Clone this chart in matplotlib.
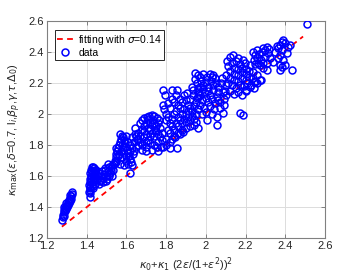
import matplotlib
matplotlib.use("Agg")
import matplotlib.pyplot as plt
import numpy as np

# ---- data ----
fit_x = [1.275, 2.49]
fit_y = [1.273, 2.50]

c1_x = [1.276,1.278,1.280,1.283,1.285,1.287,1.290,1.292,1.295,1.297,1.300,1.302,1.305,1.307,1.310,1.312,1.315,1.317,1.320,1.322,1.325,1.327,1.318,1.298,1.288]
c1_y = [1.318,1.335,1.350,1.342,1.365,1.380,1.372,1.392,1.405,1.385,1.415,1.398,1.430,1.412,1.445,1.425,1.458,1.438,1.470,1.452,1.485,1.495,1.478,1.428,1.400]

c2_x = [1.412,1.415,1.413,1.418,1.416,1.420,1.418,1.422,1.425,1.430,1.435,1.428,1.425,1.423,1.421,1.419,1.417,1.430,1.432,1.435,1.438,1.440,1.433,1.437,1.440,1.442,1.445,1.430,1.414,1.417,
        1.450,1.455,1.460,1.465,1.470,1.475,1.480,1.485,1.490,1.495,1.500,1.505,1.510,1.515,1.520,1.525,1.530,1.480,1.460,1.490,1.445,1.470,1.500,1.510,1.520,1.535,1.525,1.505]
c2_y = [1.500,1.520,1.540,1.560,1.580,1.600,1.620,1.640,1.655,1.660,1.650,1.630,1.610,1.590,1.570,1.530,1.510,1.550,1.580,1.600,1.620,1.640,1.520,1.570,1.590,1.550,1.610,1.535,1.490,1.465,
        1.580,1.600,1.620,1.570,1.600,1.630,1.590,1.610,1.640,1.570,1.600,1.630,1.660,1.620,1.650,1.670,1.640,1.560,1.550,1.650,1.640,1.575,1.580,1.600,1.630,1.680,1.600,1.675]

c3_x = [1.535,1.540,1.545,1.550,1.555,1.560,1.565,1.570,1.575,1.580,1.585,1.590,1.595,1.600,1.605,1.610,1.615,1.620,1.625,1.590,1.600,1.570,1.580,1.575,1.560,1.550,1.565,1.585,1.590,1.600,
        1.610,1.620,1.630,1.640,1.650,1.630,1.645,1.655,1.660,1.618,1.626,1.635,1.610,1.570,1.550,1.545,1.580,1.600,1.620,1.640]
c3_y = [1.680,1.700,1.720,1.740,1.760,1.780,1.800,1.820,1.840,1.860,1.850,1.830,1.810,1.790,1.770,1.750,1.730,1.710,1.690,1.670,1.700,1.680,1.720,1.760,1.730,1.700,1.745,1.790,1.750,1.860,
        1.820,1.800,1.780,1.820,1.790,1.850,1.870,1.840,1.800,1.617,1.671,1.740,1.680,1.870,1.780,1.690,1.800,1.730,1.760,1.760]

c4_x = [1.643,1.668,1.680,1.690,1.702,1.715,1.727,1.740,1.752,1.765,1.660,1.670,1.680,1.690,1.700,1.710,1.720,1.730,1.740,1.750,1.760,1.770,1.660,1.670,1.680,1.690,1.700,1.710,1.720,1.730,
        1.740,1.750,1.760,1.770,1.780,1.680,1.700,1.720,1.740,1.760,1.780,1.700,1.730,1.755,1.650,1.690,1.710,1.735,1.745,1.775,1.785,1.720,1.700,1.760]
c4_y = [1.908,1.940,1.960,1.975,1.983,1.990,1.994,1.985,1.972,1.960,1.880,1.860,1.900,1.920,1.940,1.910,1.950,1.930,1.940,1.920,1.940,1.910,1.840,1.820,1.800,1.850,1.870,1.830,1.860,1.880,
        1.860,1.890,1.870,1.850,1.880,1.770,1.790,1.810,1.800,1.820,1.830,1.760,1.770,1.785,1.860,1.890,1.970,1.960,1.900,1.790,1.789,1.900,1.820,1.760]

c5_x = [1.786,1.794,1.828,1.853,1.786,1.790,1.800,1.810,1.820,1.830,1.840,1.850,1.860,1.870,1.880,1.890,1.900,1.903,1.910,1.920,1.800,1.810,1.820,1.830,1.840,1.850,1.860,1.870,1.880,1.890,
        1.900,1.910,1.920,1.930,1.940,1.810,1.820,1.830,1.840,1.850,1.860,1.870,1.880,1.890,1.900,1.910,1.920,1.930,1.940,1.950,1.800,1.820,1.840,1.845,1.860,1.880,1.886,1.900,1.920,1.940,
        1.962,1.820,1.800,1.830,1.870,1.950,1.960,1.950,1.937,1.962,1.929,1.970,1.853]
c5_y = [2.155,2.123,2.155,2.155,2.058,2.030,2.000,2.070,2.040,2.100,2.080,2.120,2.060,2.100,2.080,2.120,2.090,2.133,2.060,2.100,1.960,1.980,1.940,1.970,2.000,2.020,1.980,2.040,2.000,2.030,
        2.000,2.020,2.040,2.020,2.050,1.900,1.880,1.920,1.900,1.940,1.920,1.960,1.940,1.970,1.950,1.980,1.960,1.990,1.970,2.000,1.840,1.820,1.860,1.854,1.880,1.900,1.886,1.910,1.920,1.930,
        1.908,1.779,1.800,1.840,1.870,1.950,2.030,2.080,2.120,2.110,2.176,2.176,1.780]

c6_x = [1.945,1.962,1.970,1.985,2.004,2.020,2.029,2.037,2.046,1.954,1.987,2.012,2.037,2.063,1.937,1.962,1.996,2.021,2.054,1.954,1.979,2.012,2.046,2.071,1.975,2.000,2.025,2.050,2.075,1.945,
        1.960,1.985,2.010,2.035,2.060,2.085,1.970,2.000,2.030,2.060,2.090,1.970,1.990,2.020,2.040,2.070,2.090,2.000,2.030,2.004,2.054,2.054,2.088,1.980,1.960,2.080,2.100,2.095]
c6_y = [2.263,2.252,2.240,2.260,2.241,2.255,2.241,2.252,2.230,2.198,2.187,2.176,2.187,2.176,2.155,2.144,2.133,2.123,2.112,2.101,2.090,2.079,2.069,2.079,2.215,2.205,2.210,2.200,2.200,2.225,
        2.170,2.160,2.150,2.155,2.145,2.140,2.120,2.105,2.095,2.090,2.100,2.060,2.040,2.050,2.030,2.040,2.060,2.010,2.000,1.961,1.983,1.929,2.005,2.000,2.030,2.230,2.190,2.150]

c7_x = [2.105,2.121,2.138,2.163,2.188,2.197,2.222,2.110,2.130,2.150,2.170,2.140,2.160,2.180,2.200,2.120,2.140,2.160,2.180,2.200,2.220,2.240,2.100,2.120,2.140,2.160,2.180,2.200,2.220,2.240,
        2.260,2.110,2.130,2.150,2.170,2.190,2.210,2.230,2.250,2.120,2.140,2.160,2.180,2.100,2.172,2.188,2.260,2.245,2.280,2.200,2.205,2.222,2.247]
c7_y = [2.340,2.370,2.381,2.359,2.348,2.327,2.316,2.310,2.330,2.340,2.320,2.300,2.290,2.300,2.290,2.280,2.260,2.250,2.270,2.260,2.280,2.270,2.250,2.230,2.220,2.210,2.230,2.220,2.240,2.230,
        2.250,2.200,2.190,2.170,2.190,2.180,2.200,2.190,2.210,2.150,2.130,2.140,2.120,2.120,2.005,1.994,2.200,2.170,2.220,2.150,2.155,2.176,2.208]

c8_x = [2.382,2.390,2.373,2.415,2.424,2.365,2.382,2.407,2.373,2.365,2.390,2.373,2.382,2.398,2.432,2.306,2.289,2.281,2.314,2.298,2.323,2.306,2.339,2.289,2.306,2.273,2.256,2.240,2.250,2.270,
        2.260,2.245,2.280,2.265,2.250,2.290,2.300,2.320,2.273,2.373,2.350,2.360,2.400,2.508]
c8_y = [2.467,2.478,2.445,2.434,2.445,2.424,2.413,2.392,2.381,2.359,2.348,2.316,2.305,2.316,2.284,2.434,2.424,2.402,2.392,2.370,2.359,2.327,2.337,2.295,2.284,2.219,2.413,2.400,2.380,2.390,
        2.360,2.350,2.350,2.330,2.320,2.330,2.410,2.420,2.316,2.284,2.400,2.440,2.460,2.579]

data_x = c1_x + c2_x + c3_x + c4_x + c5_x + c6_x + c7_x + c8_x
data_y = c1_y + c2_y + c3_y + c4_y + c5_y + c6_y + c7_y + c8_y

x_ticks = [1.2, 1.4, 1.6, 1.8, 2.0, 2.2, 2.4, 2.6]
x_tick_labels = ["1.2", "1.4", "1.6", "1.8", "2", "2.2", "2.4", "2.6"]
y_ticks = [1.2, 1.4, 1.6, 1.8, 2.0, 2.2, 2.4, 2.6]
y_tick_labels = ["1.2", "1.4", "1.6", "1.8", "2", "2.2", "2.4", "2.6"]

# ---- figure ----
plt.rcParams['font.family'] = ['Liberation Sans', 'DejaVu Sans']
plt.rcParams['mathtext.fontset'] = 'dejavusans'

fig = plt.figure(figsize=(3.59, 2.75), dpi=100)
ax = fig.add_axes([0.131, 0.1345, 0.774, 0.7891])

axis_col = '#808080'
text_col = '#262626'

ax.plot(fit_x, fit_y, color='red', linestyle=(0, (3.2, 2.4)), linewidth=1.3,
        label=r'fitting with $\sigma$=0.14', zorder=2)
ax.plot(data_x, data_y, linestyle='none', marker='o', markersize=5.0,
        markerfacecolor='none', markeredgecolor='#0000ff', markeredgewidth=1.1,
        label='data', zorder=3)

ax.set_xlim(1.2, 2.6)
ax.set_ylim(1.2, 2.6)
ax.set_xticks(x_ticks)
ax.set_xticklabels(x_tick_labels)
ax.set_yticks(y_ticks)
ax.set_yticklabels(y_tick_labels)

ax.grid(True, color='#dcdcdc', linewidth=0.7, zorder=0)
ax.set_axisbelow(True)
for s in ax.spines.values():
    s.set_color(axis_col)
    s.set_linewidth(0.8)
ax.tick_params(direction='in', length=3, width=0.7, colors=axis_col,
               labelcolor=text_col, labelsize=8, top=True, right=True, pad=2.5)

ax.set_xlabel(r'$\kappa_0$+$\kappa_1$ (2$\epsilon$/(1+$\epsilon^2$))$^2$',
              fontsize=8, color=text_col, labelpad=3)
ax.set_ylabel(r'$\kappa_{\rm max}$($\epsilon$,$\delta$=0.7, l$_i$,$\beta_p$,$\gamma$,$\tau$,$\Delta_0$)',
              fontsize=8, color=text_col, labelpad=4)

leg = ax.legend(loc='upper left', bbox_to_anchor=(0.028, 0.958), fontsize=7.5,
                frameon=True, fancybox=False, edgecolor='#262626', framealpha=1,
                handlelength=1.5, handletextpad=0.5, borderpad=0.25,
                labelspacing=0.1, borderaxespad=0.0)
leg.get_frame().set_linewidth(0.7)

fig.savefig('out.png', dpi=100)
